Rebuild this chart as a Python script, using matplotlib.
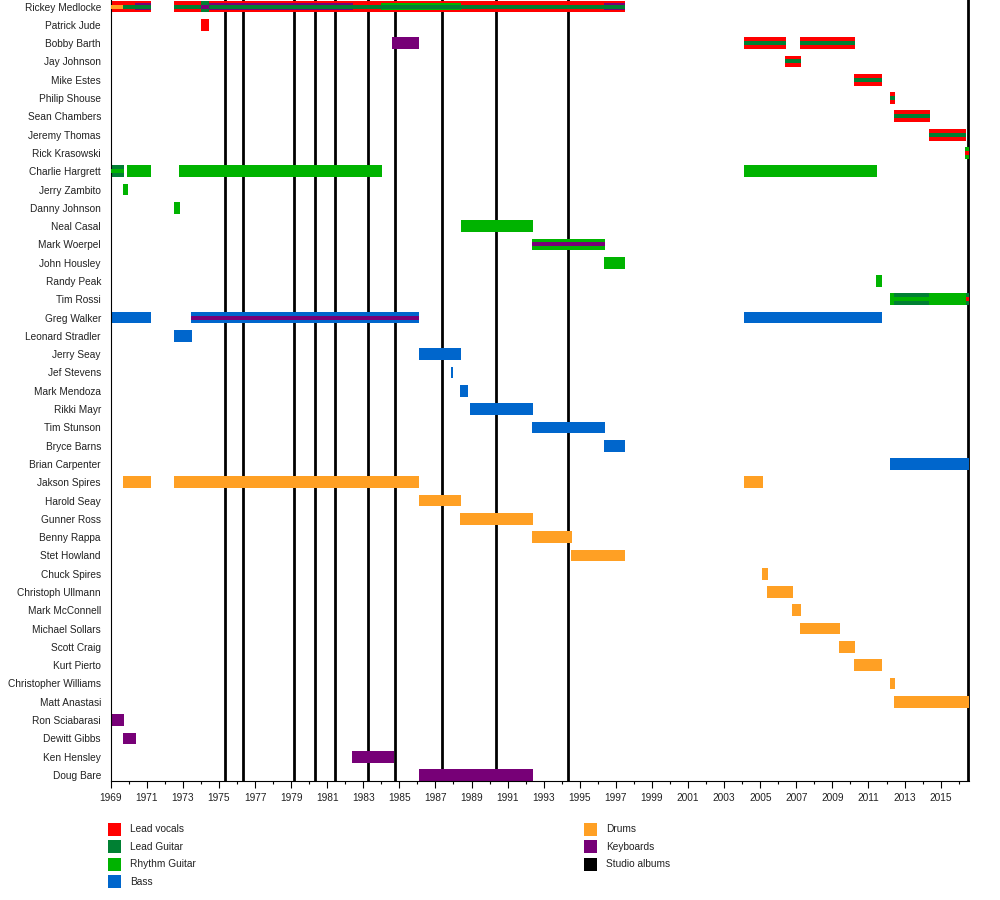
import matplotlib
matplotlib.use("Agg")
import matplotlib.pyplot as plt
from matplotlib.patches import Rectangle
from matplotlib.ticker import FixedLocator

plt.rcParams['font.family'] = ['Liberation Sans', 'DejaVu Sans']

# band members, top to bottom
members = [
    "Rickey Medlocke", "Patrick Jude", "Bobby Barth", "Jay Johnson", "Mike Estes",
    "Philip Shouse", "Sean Chambers", "Jeremy Thomas", "Rick Krasowski",
    "Charlie Hargrett", "Jerry Zambito", "Danny Johnson", "Neal Casal",
    "Mark Woerpel", "John Housley", "Randy Peak", "Tim Rossi", "Greg Walker",
    "Leonard Stradler", "Jerry Seay", "Jef Stevens", "Mark Mendoza", "Rikki Mayr",
    "Tim Stunson", "Bryce Barns", "Brian Carpenter", "Jakson Spires",
    "Harold Seay", "Gunner Ross", "Benny Rappa", "Stet Howland", "Chuck Spires",
    "Christoph Ullmann", "Mark McConnell", "Michael Sollars", "Scott Craig",
    "Kurt Pierto", "Christopher Williams", "Matt Anastasi", "Ron Sciabarasi",
    "Dewitt Gibbs", "Ken Hensley", "Doug Bare",
]

START = 1969.0
END = 2016.6

# (member, role, from, till) -- main bars
main_bars = [
    ("Rickey Medlocke", "vocals", 1969.0, 1971.23),
    ("Rickey Medlocke", "vocals", 1972.51, 1974.01),
    ("Rickey Medlocke", "lead", 1974.01, 1974.45),
    ("Rickey Medlocke", "vocals", 1974.45, 1997.52),
    ("Patrick Jude", "vocals", 1974.01, 1974.45),
    ("Bobby Barth", "keys", 1984.59, 1986.09),
    ("Bobby Barth", "vocals", 2004.11, 2006.43),
    ("Bobby Barth", "vocals", 2007.21, 2010.26),
    ("Jay Johnson", "vocals", 2006.38, 2007.27),
    ("Mike Estes", "vocals", 2010.21, 2011.76),
    ("Philip Shouse", "vocals", 2012.20, 2012.48),
    ("Sean Chambers", "vocals", 2012.42, 2014.42),
    ("Jeremy Thomas", "vocals", 2014.36, 2016.41),
    ("Rick Krasowski", "rhythm", 2016.36, END),
    ("Charlie Hargrett", "lead", 1969.0, 1969.74),
    ("Charlie Hargrett", "rhythm", 1969.90, 1971.23),
    ("Charlie Hargrett", "rhythm", 1972.79, 1984.04),
    ("Charlie Hargrett", "rhythm", 2004.11, 2011.48),
    ("Jerry Zambito", "rhythm", 1969.68, 1969.96),
    ("Danny Johnson", "rhythm", 1972.51, 1972.84),
    ("Neal Casal", "rhythm", 1988.42, 1992.40),
    ("Mark Woerpel", "rhythm", 1992.35, 1996.40),
    ("John Housley", "rhythm", 1996.35, 1997.52),
    ("Randy Peak", "rhythm", 2011.43, 2011.76),
    ("Tim Rossi", "rhythm", 2012.20, 2016.41),
    ("Tim Rossi", "lead", 2012.42, 2014.36),
    ("Tim Rossi", "lead", 2016.41, END),
    ("Greg Walker", "bass", 1969.0, 1971.23),
    ("Greg Walker", "bass", 1973.45, 1986.09),
    ("Greg Walker", "bass", 2004.11, 2011.76),
    ("Leonard Stradler", "bass", 1972.51, 1973.51),
    ("Jerry Seay", "bass", 1986.09, 1988.42),
    ("Jef Stevens", "bass", 1987.86, 1987.97),
    ("Mark Mendoza", "bass", 1988.35, 1988.81),
    ("Rikki Mayr", "bass", 1988.91, 1992.40),
    ("Tim Stunson", "bass", 1992.34, 1996.39),
    ("Bryce Barns", "bass", 1996.33, 1997.50),
    ("Brian Carpenter", "bass", 2012.20, END),
    ("Jakson Spires", "drums", 1969.69, 1971.23),
    ("Jakson Spires", "drums", 1972.51, 1986.09),
    ("Jakson Spires", "drums", 2004.11, 2005.16),
    ("Harold Seay", "drums", 1986.09, 1988.41),
    ("Gunner Ross", "drums", 1988.35, 1992.40),
    ("Benny Rappa", "drums", 1992.34, 1994.59),
    ("Stet Howland", "drums", 1994.54, 1997.50),
    ("Chuck Spires", "drums", 2005.10, 2005.43),
    ("Christoph Ullmann", "drums", 2005.38, 2006.82),
    ("Mark McConnell", "drums", 2006.77, 2007.27),
    ("Michael Sollars", "drums", 2007.21, 2009.43),
    ("Scott Craig", "drums", 2009.37, 2010.26),
    ("Kurt Pierto", "drums", 2010.21, 2011.76),
    ("Christopher Williams", "drums", 2012.20, 2012.48),
    ("Matt Anastasi", "drums", 2012.42, END),
    ("Ron Sciabarasi", "keys", 1969.0, 1969.74),
    ("Dewitt Gibbs", "keys", 1969.69, 1970.40),
    ("Ken Hensley", "keys", 1982.38, 1984.71),
    ("Doug Bare", "keys", 1986.09, 1992.40),
]

# secondary roles, medium stripe
mid_bars = [
    ("Rickey Medlocke", "keys", 1970.35, 1971.23),
    ("Rickey Medlocke", "keys", 1974.45, 1982.41),
    ("Rickey Medlocke", "rhythm", 1983.98, 1988.42),
    ("Rickey Medlocke", "keys", 1996.35, 1997.52),
]

# secondary roles, thin stripe
thin_bars = [
    ("Rickey Medlocke", "drums", 1969.0, 1969.68),
    ("Rickey Medlocke", "lead", 1969.68, 1971.23),
    ("Rickey Medlocke", "lead", 1972.51, 1974.01),
    ("Rickey Medlocke", "keys", 1974.01, 1974.45),
    ("Rickey Medlocke", "lead", 1974.45, 1997.52),
    ("Bobby Barth", "lead", 2004.11, 2006.43),
    ("Bobby Barth", "lead", 2007.21, 2010.26),
    ("Jay Johnson", "lead", 2006.38, 2007.27),
    ("Mike Estes", "lead", 2010.21, 2011.76),
    ("Philip Shouse", "lead", 2012.20, 2012.48),
    ("Sean Chambers", "lead", 2012.42, 2014.42),
    ("Jeremy Thomas", "lead", 2014.36, 2016.41),
    ("Rick Krasowski", "vocals", 2016.36, END),
    ("Charlie Hargrett", "rhythm", 1969.0, 1969.74),
    ("Mark Woerpel", "keys", 1992.35, 1996.40),
    ("Tim Rossi", "rhythm", 2012.42, 2014.36),
    ("Tim Rossi", "vocals", 2016.41, END),
    ("Greg Walker", "keys", 1973.45, 1986.09),
]

# studio album release dates
albums = [1975.35, 1976.34, 1979.17, 1980.34, 1981.44, 1983.27, 1984.73,
          1987.38, 1990.38, 1994.37, 2016.52]

colors = {
    "vocals": "#ff0000",
    "lead": "#008033",
    "rhythm": "#00b300",
    "bass": "#0066cc",
    "drums": "#ffa024",
    "keys": "#770077",
    "albums": "#000000",
}

legend_left = [("vocals", "Lead vocals"), ("lead", "Lead Guitar"),
               ("rhythm", "Rhythm Guitar"), ("bass", "Bass")]
legend_right = [("drums", "Drums"), ("keys", "Keyboards"), ("albums", "Studio albums")]


fig = plt.figure(figsize=(10, 9), dpi=100)
ax = fig.add_axes([0.1107, 1 - 781 / 900, 0.8588, 781 / 900])

row = {name: i for i, name in enumerate(members)}

for yr in albums:
    ax.axvline(yr, color=colors["albums"], lw=2.0, zorder=1)


def draw(bars, height, z):
    for name, role, t0, t1 in bars:
        ax.barh(row[name], t1 - t0, left=t0, height=height,
                color=colors[role], linewidth=0, zorder=z)


draw(main_bars, 0.64, 2)
draw(mid_bars, 0.42, 3)
draw(thin_bars, 0.22, 4)

ax.set_xlim(START, END)
ax.set_ylim(42.33, -0.36)

ax.set_yticks(range(len(members)))
ax.set_yticklabels(members, fontsize=7.3, color="#222222")
ax.tick_params(axis="y", length=0, pad=7)

ax.xaxis.set_major_locator(FixedLocator(list(range(1969, 2017, 2))))
ax.xaxis.set_minor_locator(FixedLocator(list(range(1969, 2017))))
ax.tick_params(axis="x", which="major", length=5, width=0.8, pad=3.5,
               labelsize=7.3, labelcolor="#222222")
ax.tick_params(axis="x", which="minor", length=2.5, width=0.8)

for side in ("top", "right"):
    ax.spines[side].set_visible(False)
ax.spines["left"].set_linewidth(0.8)
ax.spines["bottom"].set_linewidth(0.8)

# legend in figure pixels
W, H = 1000, 900


def legend_col(items, x_box, x_text, y0):
    for i, (key, label) in enumerate(items):
        yc = y0 + i * 17.4
        fig.patches.append(Rectangle((x_box / W, 1 - (yc + 6.5) / H), 13 / W, 13 / H,
                                     transform=fig.transFigure,
                                     color=colors[key], linewidth=0))
        fig.text(x_text / W, 1 - yc / H, label, va="center", ha="left",
                 fontsize=7.3, color="#222222")


legend_col(legend_left, 108, 130, 829.5)
legend_col(legend_right, 584, 606, 829.5)

fig.savefig("out.png", dpi=100)
